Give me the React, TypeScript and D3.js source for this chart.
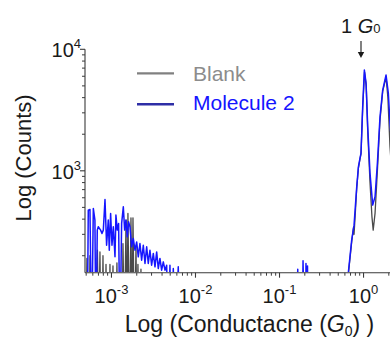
import React from 'react';
import * as d3 from 'd3';

// ---- Data (log10 conductance in G0, counts) ----
// Molecule 2, low-conductance noise region
const blueLowLogG = [-3.288, -3.276, -3.256, -3.236, -3.216, -3.197, -3.185, -3.169, -3.157, -3.129, -3.113, -3.097, -3.077, -3.058, -3.038, -3.026, -3.010, -2.994, -2.978, -2.958, -2.947, -2.931, -2.915, -2.899, -2.879, -2.859, -2.843, -2.827, -2.812, -2.796, -2.780, -2.760, -2.740, -2.720, -2.700, -2.681, -2.661, -2.641, -2.621, -2.601, -2.581, -2.562, -2.542, -2.522, -2.502, -2.482, -2.462, -2.443, -2.423, -2.403, -2.383, -2.363, -2.343, -2.324, -2.304, -2.284, -2.264, -2.244, -2.205, -2.185];
const blueLowCounts = [0, 474, 481, 0, 490, 393, 0, 325, 346, 325, 305, 325, 581, 244, 393, 222, 446, 244, 346, 196, 432, 325, 369, 0, 369, 505, 325, 393, 286, 380, 346, 237, 277, 222, 260, 196, 252, 184, 244, 173, 237, 173, 222, 167, 209, 162, 215, 157, 190, 152, 178, 152, 167, 0, 167, 0, 157, 0, 162, 0];
// Molecule 2, small spikes near 0.2 G0
const blueSpikeLogG = [-0.800, -0.783, -0.768, -0.732, -0.720, -0.702, -0.690, -0.685, -0.677, -0.672, -0.667, -0.658];
const blueSpikeCounts = [0, 155, 0, 0, 182, 0, 0, 173, 0, 0, 165, 0];
// Molecule 2, 1 G0 region
const bluePeakLogG = [-0.200, -0.181, -0.141, -0.113, -0.081, -0.061, -0.042, -0.030, -0.010, 0.010, 0.030, 0.050, 0.077, 0.109, 0.137, 0.165, 0.196, 0.228, 0.268, 0.295, 0.315, 0.340];
const bluePeakCounts = [0, 145, 269, 357, 738, 1079, 1273, 1400, 3370, 6750, 5280, 2300, 957, 522, 611, 1157, 2786, 4620, 6140, 4365, 2470, 1500];

// Blank, low-conductance spikes
const grayLowLogG = [-3.304, -3.292, -3.280, -3.268, -3.256, -3.244, -3.180, -3.167, -3.152, -3.137, -3.125, -3.113, -3.101, -3.089, -3.077, -3.065, -3.053, -3.030, -3.018, -3.006, -2.994, -2.982, -2.970, -2.947, -2.935, -2.923, -2.875, -2.863, -2.845, -2.827, -2.816, -2.804, -2.786, -2.768, -2.756, -2.744, -2.726, -2.708, -2.697, -2.685, -2.667, -2.649, -2.637];
const grayLowCounts = [0, 190, 0, 0, 200, 0, 0, 222, 0, 215, 0, 0, 200, 0, 0, 170, 0, 0, 170, 0, 0, 165, 0, 0, 175, 0, 0, 252, 0, 393, 0, 446, 0, 410, 0, 410, 0, 237, 0, 170, 0, 155, 0];
// Blank, 1 G0 region
const grayPeakLogG = [-0.200, -0.181, -0.141, -0.120, -0.113, -0.100, -0.081, -0.061, -0.042, -0.030, -0.010, 0.012, 0.032, 0.050, 0.077, 0.100, 0.115, 0.137, 0.165, 0.196, 0.228, 0.268, 0.290, 0.315, 0.340];
const grayPeakCounts = [0, 140, 260, 340, 300, 420, 720, 1050, 1250, 1380, 3300, 6500, 5000, 2100, 800, 420, 325, 446, 1000, 2600, 4500, 5900, 4000, 1577, 900];

const xMajorExp = [-3, -2, -1, 0];
const yMajorExp = [3, 4];
const seriesNames = ['Blank', 'Molecule 2'];

const FONT = '"Liberation Sans", Arial, Helvetica, sans-serif';

export default function App() {
  const W = 390, H = 338;
  const x = d3.scaleLog().domain([Math.pow(10, -3.315), Math.pow(10, 0.315)]).range([85, 390]);
  const y = d3.scaleLog().domain([145, 10000]).range([272.7, 49.3]);
  const floor = 40;
  const toPts = (lg: number[], c: number[]) => lg.map((g, i) => [Math.pow(10, g), Math.max(c[i], floor)] as [number, number]);
  const line = d3.line<[number, number]>().x(d => x(d[0])).y(d => y(d[1]));

  const bluePts = [
    ...toPts(blueLowLogG, blueLowCounts),
    ...toPts(blueSpikeLogG, blueSpikeCounts),
    ...toPts(bluePeakLogG, bluePeakCounts),
  ];
  const grayPts = [
    ...toPts(grayLowLogG, grayLowCounts),
    ...toPts(grayPeakLogG, grayPeakCounts),
  ];

  const x0 = 85, yBase = 272.7;
  const xMinor: number[] = [];
  for (let e = -4; e <= 0; e++) {
    for (let m = 2; m <= 9; m++) {
      const v = m * Math.pow(10, e);
      if (v >= x.domain()[0] && v <= x.domain()[1]) xMinor.push(v);
    }
  }
  const yMinor: number[] = [];
  for (let e = 2; e <= 3; e++) {
    for (let m = 2; m <= 9; m++) {
      const v = m * Math.pow(10, e);
      if (v >= y.domain()[0] && v <= y.domain()[1]) yMinor.push(v);
    }
  }
  const axisColor = '#3a3a3a';

  return (
    <svg width={W} height={H} style={{ position: 'absolute', left: 0, top: 0, background: '#fff' }} fontFamily={FONT}>
      <defs>
        <clipPath id="plotClip">
          <rect x={x0 + 0.5} y={0} width={W - x0} height={yBase - 0.8} />
        </clipPath>
      </defs>
      <g clipPath="url(#plotClip)" fill="none" strokeLinejoin="round">
        <path d={line(grayPts) || ''} stroke="#4a4a4a" strokeWidth={1.3} />
        <path d={line(bluePts) || ''} stroke="#1616ff" strokeWidth={1.5} />
      </g>

      {/* axes */}
      <line x1={x0} x2={x0} y1={y(10000)} y2={yBase} stroke={axisColor} strokeWidth={1.1} />
      <line x1={x0} x2={W + 2} y1={yBase} y2={yBase} stroke={axisColor} strokeWidth={1.1} />
      {xMinor.map((v, i) => (
        <line key={'xm' + i} x1={x(v)} x2={x(v)} y1={yBase} y2={yBase + 3} stroke={axisColor} strokeWidth={1} />
      ))}
      {xMajorExp.map(e => (
        <line key={'xM' + e} x1={x(Math.pow(10, e))} x2={x(Math.pow(10, e))} y1={yBase} y2={yBase + 5} stroke={axisColor} strokeWidth={1.1} />
      ))}
      {yMinor.map((v, i) => (
        <line key={'ym' + i} x1={x0 - 3} x2={x0} y1={y(v)} y2={y(v)} stroke={axisColor} strokeWidth={1} />
      ))}
      {yMajorExp.map(e => (
        <line key={'yM' + e} x1={x0 - 5} x2={x0} y1={y(Math.pow(10, e))} y2={y(Math.pow(10, e))} stroke={axisColor} strokeWidth={1.1} />
      ))}

      {/* tick labels */}
      {xMajorExp.map(e => (
        <text key={'xl' + e} x={x(Math.pow(10, e))} y={303} textAnchor="middle" fontSize={20} fill="#1a1a1a">
          10<tspan fontSize={13} dy={-9}>{e}</tspan>
        </text>
      ))}
      {yMajorExp.map(e => (
        <text key={'yl' + e} x={81} y={y(Math.pow(10, e)) + 8} textAnchor="end" fontSize={20} fill="#1a1a1a">
          10<tspan fontSize={13} dy={-9}>{e}</tspan>
        </text>
      ))}

      {/* axis titles */}
      <text transform="translate(31,158) rotate(-90)" textAnchor="middle" fontSize={22} fill="#1a1a1a">Log (Counts)</text>
      <text x={249.5} y={332} textAnchor="middle" fontSize={23} fill="#1a1a1a">
        Log (Conductacne (<tspan fontStyle="italic">G</tspan><tspan fontSize={14} dy={4}>0</tspan><tspan dy={-4}>) )</tspan>
      </text>

      {/* legend */}
      <line x1={137} x2={174} y1={73.3} y2={73.3} stroke="#808080" strokeWidth={2.2} />
      <text x={193} y={81} fontSize={21} fill="#8c8c8c">{seriesNames[0]}</text>
      <line x1={137} x2={174} y1={104.3} y2={104.3} stroke="#2e2ea6" strokeWidth={2.6} />
      <text x={193} y={110} fontSize={21} fill="#1414ff">{seriesNames[1]}</text>

      {/* 1 G0 annotation */}
      <text x={341} y={33} fontSize={20} fill="#1a1a1a">
        1 <tspan fontStyle="italic">G</tspan><tspan fontSize={13}>0</tspan>
      </text>
      <line x1={361} x2={361} y1={41} y2={53} stroke="#1a1a1a" strokeWidth={1.1} />
      <path d="M357.8,52 L364.2,52 L361,58 Z" fill="#1a1a1a" />
    </svg>
  );
}
